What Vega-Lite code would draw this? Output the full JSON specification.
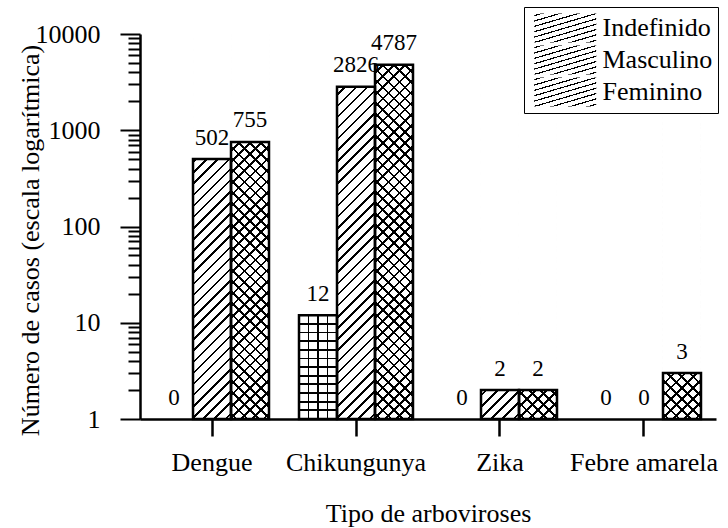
{
"$schema":"https://vega.github.io/schema/vega-lite/v6.json",
"width":576,"height":385,
"padding":{"left":17,"top":6,"right":5,"bottom":5},
"config":{"view":{"stroke":null},"font":"Liberation Serif"},
"data":{"values":[
{"virus":"Dengue","sexo":"Indefinido","casos":0},
{"virus":"Dengue","sexo":"Masculino","casos":502},
{"virus":"Dengue","sexo":"Feminino","casos":755},
{"virus":"Chikungunya","sexo":"Indefinido","casos":12},
{"virus":"Chikungunya","sexo":"Masculino","casos":2826},
{"virus":"Chikungunya","sexo":"Feminino","casos":4787},
{"virus":"Zika","sexo":"Indefinido","casos":0},
{"virus":"Zika","sexo":"Masculino","casos":2},
{"virus":"Zika","sexo":"Feminino","casos":2},
{"virus":"Febre amarela","sexo":"Indefinido","casos":0},
{"virus":"Febre amarela","sexo":"Masculino","casos":0},
{"virus":"Febre amarela","sexo":"Feminino","casos":3}
]},
"encoding":{
"x":{"field":"virus","type":"nominal","scale":{"domain":["Dengue","Chikungunya","Zika","Febre amarela"],"paddingInner":0.2083,"paddingOuter":0.1042},
"axis":{"title":"Tipo de arboviroses","labelAngle":0,"labelFont":"Liberation Serif","labelFontSize":26,"labelColor":"#000","labelPadding":13,"tickSize":17,"tickWidth":2.5,"tickColor":"#000","domainColor":"#000","domainWidth":2.5,"titleFont":"Liberation Serif","titleFontSize":26,"titleFontWeight":"normal","titleColor":"#000","titlePadding":25}},
"xOffset":{"field":"sexo","type":"nominal","scale":{"domain":["Indefinido","Masculino","Feminino"],"paddingInner":0,"paddingOuter":0}},
"y":{"field":"casos","type":"quantitative","scale":{"type":"log","domain":[1,10000]},
"axis":{"title":"Número de casos (escala logarítmica)","values":[1,2,3,4,5,6,7,8,9,10,20,30,40,50,60,70,80,90,100,200,300,400,500,600,700,800,900,1000,2000,3000,4000,5000,6000,7000,8000,9000,10000],"labelExpr":"indexof([1,10,100,1000,10000], datum.value) >= 0 ? datum.value : ''","tickSize":{"condition":{"test":"indexof([1,10,100,1000,10000], datum.value) >= 0","value":20},"value":12},"labelOverlap":false,"labelFont":"Liberation Serif","labelFontSize":26,"labelColor":"#000","labelPadding":20,"tickWidth":2,"tickColor":"#000","domainColor":"#000","domainWidth":2.5,"grid":false,"titleFont":"Liberation Serif","titleFontSize":26,"titleFontWeight":"normal","titleColor":"#000","titleX":-96.5,"titleY":206}}
},
"layer":[
{"transform":[{"filter":"datum.casos > 0 && datum.sexo !== 'Indefinido'"}],
"mark":{"type":"bar","strokeWidth":0,"fill":{"gradient":"linear","x1":0,"y1":0,"x2":0.1074,"y2":1.0881,"stops":[
{"offset":0.01,"color":"#fff"},{"offset":0.01,"color":"#000"},{"offset":0.016,"color":"#000"},{"offset":0.016,"color":"#fff"},
{"offset":0.0363,"color":"#fff"},{"offset":0.0363,"color":"#000"},{"offset":0.0423,"color":"#000"},{"offset":0.0423,"color":"#fff"},
{"offset":0.0626,"color":"#fff"},{"offset":0.0626,"color":"#000"},{"offset":0.0686,"color":"#000"},{"offset":0.0686,"color":"#fff"},
{"offset":0.0889,"color":"#fff"},{"offset":0.0889,"color":"#000"},{"offset":0.0949,"color":"#000"},{"offset":0.0949,"color":"#fff"},
{"offset":0.1153,"color":"#fff"},{"offset":0.1153,"color":"#000"},{"offset":0.1213,"color":"#000"},{"offset":0.1213,"color":"#fff"},
{"offset":0.1416,"color":"#fff"},{"offset":0.1416,"color":"#000"},{"offset":0.1476,"color":"#000"},{"offset":0.1476,"color":"#fff"},
{"offset":0.1679,"color":"#fff"},{"offset":0.1679,"color":"#000"},{"offset":0.1739,"color":"#000"},{"offset":0.1739,"color":"#fff"},
{"offset":0.1942,"color":"#fff"},{"offset":0.1942,"color":"#000"},{"offset":0.2002,"color":"#000"},{"offset":0.2002,"color":"#fff"},
{"offset":0.2205,"color":"#fff"},{"offset":0.2205,"color":"#000"},{"offset":0.2265,"color":"#000"},{"offset":0.2265,"color":"#fff"},
{"offset":0.2468,"color":"#fff"},{"offset":0.2468,"color":"#000"},{"offset":0.2528,"color":"#000"},{"offset":0.2528,"color":"#fff"},
{"offset":0.2732,"color":"#fff"},{"offset":0.2732,"color":"#000"},{"offset":0.2792,"color":"#000"},{"offset":0.2792,"color":"#fff"},
{"offset":0.2995,"color":"#fff"},{"offset":0.2995,"color":"#000"},{"offset":0.3055,"color":"#000"},{"offset":0.3055,"color":"#fff"},
{"offset":0.3258,"color":"#fff"},{"offset":0.3258,"color":"#000"},{"offset":0.3318,"color":"#000"},{"offset":0.3318,"color":"#fff"},
{"offset":0.3521,"color":"#fff"},{"offset":0.3521,"color":"#000"},{"offset":0.3581,"color":"#000"},{"offset":0.3581,"color":"#fff"},
{"offset":0.3784,"color":"#fff"},{"offset":0.3784,"color":"#000"},{"offset":0.3844,"color":"#000"},{"offset":0.3844,"color":"#fff"},
{"offset":0.4047,"color":"#fff"},{"offset":0.4047,"color":"#000"},{"offset":0.4107,"color":"#000"},{"offset":0.4107,"color":"#fff"},
{"offset":0.4311,"color":"#fff"},{"offset":0.4311,"color":"#000"},{"offset":0.4371,"color":"#000"},{"offset":0.4371,"color":"#fff"},
{"offset":0.4574,"color":"#fff"},{"offset":0.4574,"color":"#000"},{"offset":0.4634,"color":"#000"},{"offset":0.4634,"color":"#fff"},
{"offset":0.4837,"color":"#fff"},{"offset":0.4837,"color":"#000"},{"offset":0.4897,"color":"#000"},{"offset":0.4897,"color":"#fff"},
{"offset":0.51,"color":"#fff"},{"offset":0.51,"color":"#000"},{"offset":0.516,"color":"#000"},{"offset":0.516,"color":"#fff"},
{"offset":0.5363,"color":"#fff"},{"offset":0.5363,"color":"#000"},{"offset":0.5423,"color":"#000"},{"offset":0.5423,"color":"#fff"},
{"offset":0.5626,"color":"#fff"},{"offset":0.5626,"color":"#000"},{"offset":0.5686,"color":"#000"},{"offset":0.5686,"color":"#fff"},
{"offset":0.589,"color":"#fff"},{"offset":0.589,"color":"#000"},{"offset":0.595,"color":"#000"},{"offset":0.595,"color":"#fff"},
{"offset":0.6153,"color":"#fff"},{"offset":0.6153,"color":"#000"},{"offset":0.6213,"color":"#000"},{"offset":0.6213,"color":"#fff"},
{"offset":0.6416,"color":"#fff"},{"offset":0.6416,"color":"#000"},{"offset":0.6476,"color":"#000"},{"offset":0.6476,"color":"#fff"},
{"offset":0.6679,"color":"#fff"},{"offset":0.6679,"color":"#000"},{"offset":0.6739,"color":"#000"},{"offset":0.6739,"color":"#fff"},
{"offset":0.6942,"color":"#fff"},{"offset":0.6942,"color":"#000"},{"offset":0.7002,"color":"#000"},{"offset":0.7002,"color":"#fff"},
{"offset":0.7205,"color":"#fff"},{"offset":0.7205,"color":"#000"},{"offset":0.7265,"color":"#000"},{"offset":0.7265,"color":"#fff"},
{"offset":0.7468,"color":"#fff"},{"offset":0.7468,"color":"#000"},{"offset":0.7528,"color":"#000"},{"offset":0.7528,"color":"#fff"},
{"offset":0.7732,"color":"#fff"},{"offset":0.7732,"color":"#000"},{"offset":0.7792,"color":"#000"},{"offset":0.7792,"color":"#fff"},
{"offset":0.7995,"color":"#fff"},{"offset":0.7995,"color":"#000"},{"offset":0.8055,"color":"#000"},{"offset":0.8055,"color":"#fff"},
{"offset":0.8258,"color":"#fff"},{"offset":0.8258,"color":"#000"},{"offset":0.8318,"color":"#000"},{"offset":0.8318,"color":"#fff"},
{"offset":0.8521,"color":"#fff"},{"offset":0.8521,"color":"#000"},{"offset":0.8581,"color":"#000"},{"offset":0.8581,"color":"#fff"},
{"offset":0.8784,"color":"#fff"},{"offset":0.8784,"color":"#000"},{"offset":0.8844,"color":"#000"},{"offset":0.8844,"color":"#fff"},
{"offset":0.9047,"color":"#fff"},{"offset":0.9047,"color":"#000"},{"offset":0.9107,"color":"#000"},{"offset":0.9107,"color":"#fff"},
{"offset":0.9311,"color":"#fff"},{"offset":0.9311,"color":"#000"},{"offset":0.9371,"color":"#000"},{"offset":0.9371,"color":"#fff"},
{"offset":0.9574,"color":"#fff"},{"offset":0.9574,"color":"#000"},{"offset":0.9634,"color":"#000"},{"offset":0.9634,"color":"#fff"},
{"offset":0.9837,"color":"#fff"},{"offset":0.9837,"color":"#000"},{"offset":0.9897,"color":"#000"},{"offset":0.9897,"color":"#fff"}]}},
"encoding":{
"y":{"datum":10000,"type":"quantitative","scale":{"type":"log","domain":[1,10000]},
"axis":{"title":"Número de casos (escala logarítmica)","values":[1,2,3,4,5,6,7,8,9,10,20,30,40,50,60,70,80,90,100,200,300,400,500,600,700,800,900,1000,2000,3000,4000,5000,6000,7000,8000,9000,10000],"labelExpr":"indexof([1,10,100,1000,10000], datum.value) >= 0 ? datum.value : ''","tickSize":{"condition":{"test":"indexof([1,10,100,1000,10000], datum.value) >= 0","value":20},"value":12},"labelOverlap":false,"labelFont":"Liberation Serif","labelFontSize":26,"labelColor":"#000","labelPadding":20,"tickWidth":2,"tickColor":"#000","domainColor":"#000","domainWidth":2.5,"grid":false,"titleFont":"Liberation Serif","titleFontSize":26,"titleFontWeight":"normal","titleColor":"#000","titleX":-96.5,"titleY":206}},
"y2":{"datum":1},
"opacity":{"field":"sexo","type":"ordinal","scale":{"domain":["Indefinido","Masculino","Feminino"],"range":[1,1,1]},
"legend":{"orient":"none","legendX":384,"legendY":-27,"title":null,"padding":5,"strokeColor":"#000","fillColor":"#fff","symbolType":"M-0.88,-0.47H1.12V0.47H-0.88Z","symbolSize":3844,"symbolStrokeColor":"#000","symbolStrokeWidth":2.5,"symbolOpacity":1,"clipHeight":32,"rowPadding":0,"labelFont":"Liberation Serif","labelFontSize":26,"labelColor":"#000","labelOffset":8.5,
"encode":{"symbols":{"update":{"stroke":{"value":"#000"},"strokeWidth":{"value":2.5},"opacity":{"value":1},"fill":{"value":"#fff"}}}}}}
}},
{"transform":[{"filter":"datum.casos > 0 && datum.sexo === 'Indefinido'"}],
"mark":{"type":"bar","strokeWidth":0,"fill":{"gradient":"linear","x1":0,"y1":0,"x2":1,"y2":0,"stops":[
{"offset":0.2263,"color":"#fff"},{"offset":0.2263,"color":"#000"},{"offset":0.2737,"color":"#000"},{"offset":0.2737,"color":"#fff"},
{"offset":0.4763,"color":"#fff"},{"offset":0.4763,"color":"#000"},{"offset":0.5237,"color":"#000"},{"offset":0.5237,"color":"#fff"},
{"offset":0.7263,"color":"#fff"},{"offset":0.7263,"color":"#000"},{"offset":0.7737,"color":"#000"},{"offset":0.7737,"color":"#fff"}]}},
"encoding":{"y2":{"datum":1}}},
{"transform":[{"filter":"datum.casos > 0 && datum.sexo === 'Feminino'"}],
"mark":{"type":"bar","strokeWidth":0,"fill":{"gradient":"linear","x1":0,"y1":1,"x2":0.1074,"y2":-0.0881,"stops":[
{"offset":0.01,"color":"transparent"},{"offset":0.01,"color":"#000"},{"offset":0.016,"color":"#000"},{"offset":0.016,"color":"transparent"},
{"offset":0.0363,"color":"transparent"},{"offset":0.0363,"color":"#000"},{"offset":0.0423,"color":"#000"},{"offset":0.0423,"color":"transparent"},
{"offset":0.0626,"color":"transparent"},{"offset":0.0626,"color":"#000"},{"offset":0.0686,"color":"#000"},{"offset":0.0686,"color":"transparent"},
{"offset":0.0889,"color":"transparent"},{"offset":0.0889,"color":"#000"},{"offset":0.0949,"color":"#000"},{"offset":0.0949,"color":"transparent"},
{"offset":0.1153,"color":"transparent"},{"offset":0.1153,"color":"#000"},{"offset":0.1213,"color":"#000"},{"offset":0.1213,"color":"transparent"},
{"offset":0.1416,"color":"transparent"},{"offset":0.1416,"color":"#000"},{"offset":0.1476,"color":"#000"},{"offset":0.1476,"color":"transparent"},
{"offset":0.1679,"color":"transparent"},{"offset":0.1679,"color":"#000"},{"offset":0.1739,"color":"#000"},{"offset":0.1739,"color":"transparent"},
{"offset":0.1942,"color":"transparent"},{"offset":0.1942,"color":"#000"},{"offset":0.2002,"color":"#000"},{"offset":0.2002,"color":"transparent"},
{"offset":0.2205,"color":"transparent"},{"offset":0.2205,"color":"#000"},{"offset":0.2265,"color":"#000"},{"offset":0.2265,"color":"transparent"},
{"offset":0.2468,"color":"transparent"},{"offset":0.2468,"color":"#000"},{"offset":0.2528,"color":"#000"},{"offset":0.2528,"color":"transparent"},
{"offset":0.2732,"color":"transparent"},{"offset":0.2732,"color":"#000"},{"offset":0.2792,"color":"#000"},{"offset":0.2792,"color":"transparent"},
{"offset":0.2995,"color":"transparent"},{"offset":0.2995,"color":"#000"},{"offset":0.3055,"color":"#000"},{"offset":0.3055,"color":"transparent"},
{"offset":0.3258,"color":"transparent"},{"offset":0.3258,"color":"#000"},{"offset":0.3318,"color":"#000"},{"offset":0.3318,"color":"transparent"},
{"offset":0.3521,"color":"transparent"},{"offset":0.3521,"color":"#000"},{"offset":0.3581,"color":"#000"},{"offset":0.3581,"color":"transparent"},
{"offset":0.3784,"color":"transparent"},{"offset":0.3784,"color":"#000"},{"offset":0.3844,"color":"#000"},{"offset":0.3844,"color":"transparent"},
{"offset":0.4047,"color":"transparent"},{"offset":0.4047,"color":"#000"},{"offset":0.4107,"color":"#000"},{"offset":0.4107,"color":"transparent"},
{"offset":0.4311,"color":"transparent"},{"offset":0.4311,"color":"#000"},{"offset":0.4371,"color":"#000"},{"offset":0.4371,"color":"transparent"},
{"offset":0.4574,"color":"transparent"},{"offset":0.4574,"color":"#000"},{"offset":0.4634,"color":"#000"},{"offset":0.4634,"color":"transparent"},
{"offset":0.4837,"color":"transparent"},{"offset":0.4837,"color":"#000"},{"offset":0.4897,"color":"#000"},{"offset":0.4897,"color":"transparent"},
{"offset":0.51,"color":"transparent"},{"offset":0.51,"color":"#000"},{"offset":0.516,"color":"#000"},{"offset":0.516,"color":"transparent"},
{"offset":0.5363,"color":"transparent"},{"offset":0.5363,"color":"#000"},{"offset":0.5423,"color":"#000"},{"offset":0.5423,"color":"transparent"},
{"offset":0.5626,"color":"transparent"},{"offset":0.5626,"color":"#000"},{"offset":0.5686,"color":"#000"},{"offset":0.5686,"color":"transparent"},
{"offset":0.589,"color":"transparent"},{"offset":0.589,"color":"#000"},{"offset":0.595,"color":"#000"},{"offset":0.595,"color":"transparent"},
{"offset":0.6153,"color":"transparent"},{"offset":0.6153,"color":"#000"},{"offset":0.6213,"color":"#000"},{"offset":0.6213,"color":"transparent"},
{"offset":0.6416,"color":"transparent"},{"offset":0.6416,"color":"#000"},{"offset":0.6476,"color":"#000"},{"offset":0.6476,"color":"transparent"},
{"offset":0.6679,"color":"transparent"},{"offset":0.6679,"color":"#000"},{"offset":0.6739,"color":"#000"},{"offset":0.6739,"color":"transparent"},
{"offset":0.6942,"color":"transparent"},{"offset":0.6942,"color":"#000"},{"offset":0.7002,"color":"#000"},{"offset":0.7002,"color":"transparent"},
{"offset":0.7205,"color":"transparent"},{"offset":0.7205,"color":"#000"},{"offset":0.7265,"color":"#000"},{"offset":0.7265,"color":"transparent"},
{"offset":0.7468,"color":"transparent"},{"offset":0.7468,"color":"#000"},{"offset":0.7528,"color":"#000"},{"offset":0.7528,"color":"transparent"},
{"offset":0.7732,"color":"transparent"},{"offset":0.7732,"color":"#000"},{"offset":0.7792,"color":"#000"},{"offset":0.7792,"color":"transparent"},
{"offset":0.7995,"color":"transparent"},{"offset":0.7995,"color":"#000"},{"offset":0.8055,"color":"#000"},{"offset":0.8055,"color":"transparent"},
{"offset":0.8258,"color":"transparent"},{"offset":0.8258,"color":"#000"},{"offset":0.8318,"color":"#000"},{"offset":0.8318,"color":"transparent"},
{"offset":0.8521,"color":"transparent"},{"offset":0.8521,"color":"#000"},{"offset":0.8581,"color":"#000"},{"offset":0.8581,"color":"transparent"},
{"offset":0.8784,"color":"transparent"},{"offset":0.8784,"color":"#000"},{"offset":0.8844,"color":"#000"},{"offset":0.8844,"color":"transparent"},
{"offset":0.9047,"color":"transparent"},{"offset":0.9047,"color":"#000"},{"offset":0.9107,"color":"#000"},{"offset":0.9107,"color":"transparent"},
{"offset":0.9311,"color":"transparent"},{"offset":0.9311,"color":"#000"},{"offset":0.9371,"color":"#000"},{"offset":0.9371,"color":"transparent"},
{"offset":0.9574,"color":"transparent"},{"offset":0.9574,"color":"#000"},{"offset":0.9634,"color":"#000"},{"offset":0.9634,"color":"transparent"},
{"offset":0.9837,"color":"transparent"},{"offset":0.9837,"color":"#000"},{"offset":0.9897,"color":"#000"},{"offset":0.9897,"color":"transparent"}]}},
"encoding":{
"y":{"datum":10000,"type":"quantitative","scale":{"type":"log","domain":[1,10000]},
"axis":{"title":"Número de casos (escala logarítmica)","values":[1,2,3,4,5,6,7,8,9,10,20,30,40,50,60,70,80,90,100,200,300,400,500,600,700,800,900,1000,2000,3000,4000,5000,6000,7000,8000,9000,10000],"labelExpr":"indexof([1,10,100,1000,10000], datum.value) >= 0 ? datum.value : ''","tickSize":{"condition":{"test":"indexof([1,10,100,1000,10000], datum.value) >= 0","value":20},"value":12},"labelOverlap":false,"labelFont":"Liberation Serif","labelFontSize":26,"labelColor":"#000","labelPadding":20,"tickWidth":2,"tickColor":"#000","domainColor":"#000","domainWidth":2.5,"grid":false,"titleFont":"Liberation Serif","titleFontSize":26,"titleFontWeight":"normal","titleColor":"#000","titleX":-96.5,"titleY":206}},
"y2":{"datum":1}}},
{"transform":[{"filter":"datum.casos > 0 && datum.sexo === 'Indefinido'"}],
"mark":{"type":"bar","strokeWidth":0,"fill":{"gradient":"linear","x1":0,"y1":0,"x2":0,"y2":1,"stops":[
{"offset":0.0746,"color":"transparent"},{"offset":0.0746,"color":"#000"},{"offset":0.092,"color":"#000"},{"offset":0.092,"color":"transparent"},
{"offset":0.158,"color":"transparent"},{"offset":0.158,"color":"#000"},{"offset":0.1754,"color":"#000"},{"offset":0.1754,"color":"transparent"},
{"offset":0.2413,"color":"transparent"},{"offset":0.2413,"color":"#000"},{"offset":0.2587,"color":"#000"},{"offset":0.2587,"color":"transparent"},
{"offset":0.3246,"color":"transparent"},{"offset":0.3246,"color":"#000"},{"offset":0.342,"color":"#000"},{"offset":0.342,"color":"transparent"},
{"offset":0.408,"color":"transparent"},{"offset":0.408,"color":"#000"},{"offset":0.4254,"color":"#000"},{"offset":0.4254,"color":"transparent"},
{"offset":0.4913,"color":"transparent"},{"offset":0.4913,"color":"#000"},{"offset":0.5087,"color":"#000"},{"offset":0.5087,"color":"transparent"},
{"offset":0.5746,"color":"transparent"},{"offset":0.5746,"color":"#000"},{"offset":0.592,"color":"#000"},{"offset":0.592,"color":"transparent"},
{"offset":0.658,"color":"transparent"},{"offset":0.658,"color":"#000"},{"offset":0.6754,"color":"#000"},{"offset":0.6754,"color":"transparent"},
{"offset":0.7413,"color":"transparent"},{"offset":0.7413,"color":"#000"},{"offset":0.7587,"color":"#000"},{"offset":0.7587,"color":"transparent"},
{"offset":0.8246,"color":"transparent"},{"offset":0.8246,"color":"#000"},{"offset":0.842,"color":"#000"},{"offset":0.842,"color":"transparent"},
{"offset":0.908,"color":"transparent"},{"offset":0.908,"color":"#000"},{"offset":0.9254,"color":"#000"},{"offset":0.9254,"color":"transparent"}]}},
"encoding":{"y2":{"datum":1}}},
{"transform":[{"filter":"datum.casos > 0 && datum.sexo !== 'Indefinido'"}],
"mark":{"type":"bar","fill":"#fff","strokeWidth":0},
"encoding":{"y2":{"datum":10000}}},
{"transform":[{"filter":"datum.casos > 0"}],
"mark":{"type":"bar","fill":"transparent","stroke":"#000","strokeWidth":2.5},
"encoding":{"y2":{"datum":1}}},
{"transform":[{"calculate":"max(datum.casos, 1)","as":"ly"}],
"mark":{"type":"text","baseline":"alphabetic","dy":-14.5,"fontSize":23,"font":"Liberation Serif","fill":"#000"},
"encoding":{"y":{"field":"ly","type":"quantitative","scale":{"type":"log","domain":[1,10000]},
"axis":{"title":"Número de casos (escala logarítmica)","values":[1,2,3,4,5,6,7,8,9,10,20,30,40,50,60,70,80,90,100,200,300,400,500,600,700,800,900,1000,2000,3000,4000,5000,6000,7000,8000,9000,10000],"labelExpr":"indexof([1,10,100,1000,10000], datum.value) >= 0 ? datum.value : ''","tickSize":{"condition":{"test":"indexof([1,10,100,1000,10000], datum.value) >= 0","value":20},"value":12},"labelOverlap":false,"labelFont":"Liberation Serif","labelFontSize":26,"labelColor":"#000","labelPadding":20,"tickWidth":2,"tickColor":"#000","domainColor":"#000","domainWidth":2.5,"grid":false,"titleFont":"Liberation Serif","titleFontSize":26,"titleFontWeight":"normal","titleColor":"#000","titleX":-96.5,"titleY":206}},
"text":{"field":"casos","type":"nominal"}}},
{"transform":[{"filter":"datum.casos > 0 && datum.sexo === 'Indefinido'"}],
"mark":{"type":"bar","strokeWidth":0,"fill":"transparent"},
"encoding":{"y2":{"datum":1},
"opacity":{"field":"sexo","type":"ordinal","scale":{"domain":["Indefinido","Masculino"],"range":[0,0]},
"legend":{"values":["Indefinido"],"orient":"none","legendX":384,"legendY":-27,"title":null,"padding":5,"symbolType":"M-0.88,-0.47H1.12V0.47H-0.88Z","symbolSize":3844,"symbolStrokeWidth":2.5,"clipHeight":32,"rowPadding":0,"labelFont":"Liberation Serif","labelFontSize":26,"labelColor":"transparent","labelExpr":"''","labelOffset":8.5,
"encode":{"symbols":{"update":{"stroke":{"value":"transparent"},"strokeWidth":{"value":2.5},"opacity":{"value":1},"fill":{"value":{"gradient":"linear","x1":0,"y1":0,"x2":1,"y2":0,"stops":[
{"offset":0.1522,"color":"transparent"},{"offset":0.1522,"color":"#000"},{"offset":0.1812,"color":"#000"},{"offset":0.1812,"color":"transparent"},
{"offset":0.3188,"color":"transparent"},{"offset":0.3188,"color":"#000"},{"offset":0.3478,"color":"#000"},{"offset":0.3478,"color":"transparent"},
{"offset":0.4855,"color":"transparent"},{"offset":0.4855,"color":"#000"},{"offset":0.5145,"color":"#000"},{"offset":0.5145,"color":"transparent"},
{"offset":0.6522,"color":"transparent"},{"offset":0.6522,"color":"#000"},{"offset":0.6812,"color":"#000"},{"offset":0.6812,"color":"transparent"},
{"offset":0.8188,"color":"transparent"},{"offset":0.8188,"color":"#000"},{"offset":0.8478,"color":"#000"},{"offset":0.8478,"color":"transparent"}]}}}}}}}}},
{"transform":[{"filter":"datum.casos > 0 && datum.sexo === 'Indefinido'"}],
"mark":{"type":"bar","strokeWidth":0,"fill":"transparent"},
"encoding":{"y2":{"datum":1},
"opacity":{"field":"sexo","type":"ordinal","scale":{"domain":["Indefinido","Feminino"],"range":[0,0]},
"legend":{"values":["Indefinido"],"orient":"none","legendX":384,"legendY":-27,"title":null,"padding":5,"symbolType":"M-0.88,-0.47H1.12V0.47H-0.88Z","symbolSize":3844,"symbolStrokeWidth":2.5,"clipHeight":32,"rowPadding":0,"labelFont":"Liberation Serif","labelFontSize":26,"labelColor":"transparent","labelExpr":"''","labelOffset":8.5,
"encode":{"symbols":{"update":{"stroke":{"value":"transparent"},"strokeWidth":{"value":2.5},"opacity":{"value":1},"fill":{"value":{"gradient":"linear","x1":0,"y1":0,"x2":0,"y2":1,"stops":[
{"offset":0.302,"color":"transparent"},{"offset":0.302,"color":"#000"},{"offset":0.364,"color":"#000"},{"offset":0.364,"color":"transparent"},
{"offset":0.636,"color":"transparent"},{"offset":0.636,"color":"#000"},{"offset":0.698,"color":"#000"},{"offset":0.698,"color":"transparent"}]}}}}}}}}},
{"transform":[{"filter":"datum.casos > 0 && datum.sexo !== 'Indefinido'"}],
"mark":{"type":"bar","strokeWidth":0,"fill":"transparent"},
"encoding":{"y2":{"datum":1},
"opacity":{"field":"sexo","type":"ordinal","scale":{"domain":["Masculino","Feminino"],"range":[0,0]},
"legend":{"orient":"none","legendX":384,"legendY":5,"title":null,"padding":5,"symbolType":"M-0.88,-0.47H1.12V0.47H-0.88Z","symbolSize":3844,"symbolStrokeWidth":2.5,"clipHeight":32,"rowPadding":0,"labelFont":"Liberation Serif","labelFontSize":26,"labelColor":"transparent","labelExpr":"''","labelOffset":8.5,
"encode":{"symbols":{"update":{"stroke":{"value":"transparent"},"strokeWidth":{"value":2.5},"opacity":{"value":1},"fill":{"value":{"gradient":"linear","x1":0,"y1":0,"x2":1.2043,"y2":0.5633,"stops":[
{"offset":0.04,"color":"transparent"},{"offset":0.04,"color":"#000"},{"offset":0.0675,"color":"#000"},{"offset":0.0675,"color":"transparent"},
{"offset":0.165,"color":"transparent"},{"offset":0.165,"color":"#000"},{"offset":0.1925,"color":"#000"},{"offset":0.1925,"color":"transparent"},
{"offset":0.29,"color":"transparent"},{"offset":0.29,"color":"#000"},{"offset":0.3175,"color":"#000"},{"offset":0.3175,"color":"transparent"},
{"offset":0.415,"color":"transparent"},{"offset":0.415,"color":"#000"},{"offset":0.4425,"color":"#000"},{"offset":0.4425,"color":"transparent"},
{"offset":0.54,"color":"transparent"},{"offset":0.54,"color":"#000"},{"offset":0.5675,"color":"#000"},{"offset":0.5675,"color":"transparent"},
{"offset":0.665,"color":"transparent"},{"offset":0.665,"color":"#000"},{"offset":0.6925,"color":"#000"},{"offset":0.6925,"color":"transparent"},
{"offset":0.79,"color":"transparent"},{"offset":0.79,"color":"#000"},{"offset":0.8175,"color":"#000"},{"offset":0.8175,"color":"transparent"},
{"offset":0.915,"color":"transparent"},{"offset":0.915,"color":"#000"},{"offset":0.9425,"color":"#000"},{"offset":0.9425,"color":"transparent"}]}}}}}}}}},
{"transform":[{"filter":"datum.casos > 0 && datum.sexo === 'Feminino'"}],
"mark":{"type":"bar","strokeWidth":0,"fill":"transparent"},
"encoding":{"y2":{"datum":1},
"opacity":{"field":"sexo","type":"ordinal","scale":{"domain":["Feminino","Indefinido"],"range":[0,0]},
"legend":{"values":["Feminino"],"orient":"none","legendX":384,"legendY":37,"title":null,"padding":5,"symbolType":"M-0.88,-0.47H1.12V0.47H-0.88Z","symbolSize":3844,"symbolStrokeWidth":2.5,"clipHeight":32,"rowPadding":0,"labelFont":"Liberation Serif","labelFontSize":26,"labelColor":"transparent","labelExpr":"''","labelOffset":8.5,
"encode":{"symbols":{"update":{"stroke":{"value":"transparent"},"strokeWidth":{"value":2.5},"opacity":{"value":1},"fill":{"value":{"gradient":"linear","x1":0,"y1":1,"x2":1.2043,"y2":0.4367,"stops":[
{"offset":0.04,"color":"transparent"},{"offset":0.04,"color":"#000"},{"offset":0.0675,"color":"#000"},{"offset":0.0675,"color":"transparent"},
{"offset":0.165,"color":"transparent"},{"offset":0.165,"color":"#000"},{"offset":0.1925,"color":"#000"},{"offset":0.1925,"color":"transparent"},
{"offset":0.29,"color":"transparent"},{"offset":0.29,"color":"#000"},{"offset":0.3175,"color":"#000"},{"offset":0.3175,"color":"transparent"},
{"offset":0.415,"color":"transparent"},{"offset":0.415,"color":"#000"},{"offset":0.4425,"color":"#000"},{"offset":0.4425,"color":"transparent"},
{"offset":0.54,"color":"transparent"},{"offset":0.54,"color":"#000"},{"offset":0.5675,"color":"#000"},{"offset":0.5675,"color":"transparent"},
{"offset":0.665,"color":"transparent"},{"offset":0.665,"color":"#000"},{"offset":0.6925,"color":"#000"},{"offset":0.6925,"color":"transparent"},
{"offset":0.79,"color":"transparent"},{"offset":0.79,"color":"#000"},{"offset":0.8175,"color":"#000"},{"offset":0.8175,"color":"transparent"},
{"offset":0.915,"color":"transparent"},{"offset":0.915,"color":"#000"},{"offset":0.9425,"color":"#000"},{"offset":0.9425,"color":"transparent"}]}}}}}}}}}
],
"resolve":{"scale":{"opacity":"independent"},"legend":{"opacity":"independent"}}
}
